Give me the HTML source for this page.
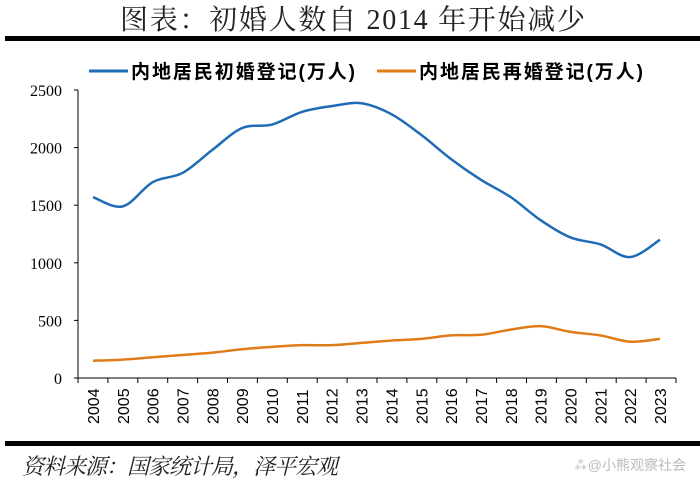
<!DOCTYPE html>
<html><head><meta charset="utf-8"><style>
body{margin:0;background:#fff;width:700px;height:489px;overflow:hidden;font-family:"Liberation Serif","Noto Serif CJK SC",serif}
</style></head><body>
<svg width="700" height="489" viewBox="0 0 700 489">
<text x="120" y="29" font-size="28" fill="#222" textLength="465" font-family="Liberation Serif, Noto Serif CJK SC, serif">图表：初婚人数自 2014 年开始减少</text>
<rect x="5" y="36" width="695" height="5" fill="#000"/>
<rect x="5" y="441" width="695" height="5" fill="#000"/>
<g font-family="Liberation Sans, Noto Sans CJK SC, sans-serif" font-size="19" font-weight="bold">
<line x1="89" y1="71" x2="128" y2="71" stroke="#1f6bb5" stroke-width="3"/>
<text x="131" y="78" fill="#000" textLength="224">内地居民初婚登记(万人)</text>
<line x1="377" y1="71" x2="416" y2="71" stroke="#e07b1a" stroke-width="3"/>
<text x="419" y="78" fill="#000" textLength="224">内地居民再婚登记(万人)</text>
</g>
<g id="axes"></g>
<text x="22" y="474" font-size="22" font-style="italic" fill="#222" textLength="316" font-family="Liberation Serif, Noto Serif CJK SC, serif">资料来源：国家统计局，泽平宏观</text>
<text x="686" y="470" text-anchor="end" font-size="14" fill="#bbb" font-family="Liberation Sans, Noto Sans CJK SC, sans-serif">⁂@小熊观察社会</text>
</svg>
<script>
const years=["2004","2005","2006","2007","2008","2009","2010","2011","2012","2013","2014","2015","2016","2017","2018","2019","2020","2021","2022","2023"];
const firstMarriage=[1570,1490,1700,1780,1980,2170,2200,2310,2360,2385,2290,2110,1900,1720,1570,1370,1220,1160,1050,1200];
const remarriage=[150,160,180,200,220,250,270,285,285,305,325,340,370,375,420,450,400,370,315,340];
const yTicks=[0,500,1000,1500,2000,2500];
const NS="http://www.w3.org/2000/svg";
const g=document.getElementById('axes');
const x=i=>93+i*(660-93)/(years.length-1);
const y=v=>378-v*(378-90)/2500;
function mk(t,a){const e=document.createElementNS(NS,t);for(const k in a)e.setAttribute(k,a[k]);g.appendChild(e);return e;}
let e=mk('line',{x1:78,y1:90,x2:78,y2:378,stroke:'#000'});


e=mk('line',{x1:78,y1:378,x2:676,y2:378,stroke:'#000'});


yTicks.forEach(v=>{
 const t=mk('line',{x1:74,y1:y(v),x2:78,y2:y(v),stroke:'#000'});
 
 
 const l=mk('text',{x:62,y:y(v)+6,'text-anchor':'end','font-size':16,fill:'#000'});
 l.textContent=v;
 
 
});
for(let i=0;i<=years.length;i++){
 const xx=78+i*(676-78)/years.length;
 const t=mk('line',{x1:xx,y1:378,x2:xx,y2:383,stroke:'#000'});
 
 
}
years.forEach((yr,i)=>{
 const l=mk('text',{x:0,y:0,transform:`translate(${x(i)+6},424) rotate(-90)`,'font-size':16,fill:'#000','font-family':'Liberation Sans, sans-serif'});
 l.textContent=yr;
 
 
});
function path(vals){
 const p=vals.map((v,i)=>[x(i),y(v)]);
 let d=`M${p[0][0]},${p[0][1]}`;
 for(let i=0;i<p.length-1;i++){
  const p0=p[Math.max(0,i-1)],p1=p[i],p2=p[i+1],p3=p[Math.min(p.length-1,i+2)];
  d+=` C${p1[0]+(p2[0]-p0[0])/6},${p1[1]+(p2[1]-p0[1])/6} ${p2[0]-(p3[0]-p1[0])/6},${p2[1]-(p3[1]-p1[1])/6} ${p2[0]},${p2[1]}`;
 }
 return d;
}
e=mk('path',{d:path(firstMarriage),fill:'none',stroke:'#1f6bb5','stroke-width':2.5});


e=mk('path',{d:path(remarriage),fill:'none',stroke:'#e07b1a','stroke-width':2.5});


</script>
</body></html>
